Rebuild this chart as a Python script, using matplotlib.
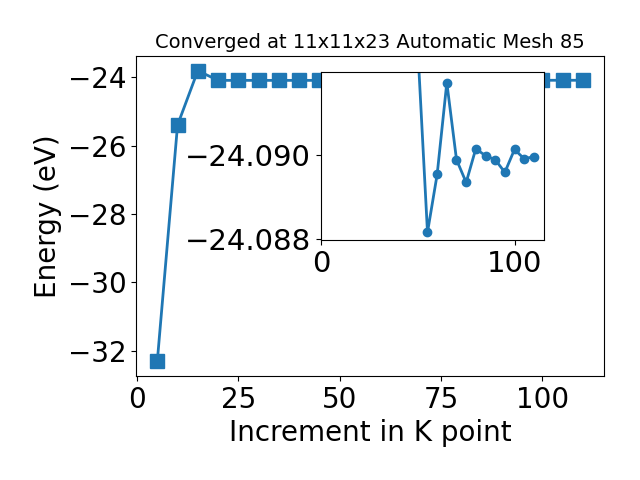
import matplotlib
matplotlib.use("Agg")
import matplotlib.pyplot as plt

# K-point increments and total energies (eV)
kpoints = [5, 10, 15, 20, 25, 30, 35, 40, 45, 50, 55, 60, 65, 70, 75, 80, 85, 90, 95, 100, 105, 110]
energy = [
    -32.31, -25.40, -23.81, -24.0928, -24.0927, -24.0927, -24.0926, -24.0926, -24.0925, -24.0925,
    -24.08816, -24.08953, -24.09170, -24.08988, -24.08934, -24.09014,
    -24.08997, -24.08988, -24.08958, -24.09012, -24.08990, -24.08995,
]

fig = plt.figure(figsize=(6.4, 4.8), dpi=100)
ax = fig.add_subplot(111)
fig.subplots_adjust(left=0.2125, right=0.944, bottom=0.2167, top=0.883)

ax.plot(kpoints, energy, marker="s", markersize=10, linewidth=2, color="#1f77b4")
ax.set_title("Converged at 11x11x23 Automatic Mesh 85", fontsize=14)
ax.set_xlabel("Increment in K point", fontsize=20)
ax.set_ylabel("Energy (eV)", fontsize=20)
ax.tick_params(labelsize=20)

# zoomed inset of the converged region
axin = fig.add_axes([0.501, 0.5, 0.349, 0.349])
axin.plot(kpoints[3:], energy[3:], marker="o", markersize=6, linewidth=2, color="#1f77b4")
axin.set_xlim(-0.25, 115.25)
axin.set_ylim(-24.08798, -24.09194)
axin.set_yticks([-24.090, -24.088])
axin.set_xticks([0, 100])
axin.ticklabel_format(axis="y", useOffset=False)
axin.tick_params(labelsize=21)

fig.savefig("out.png", dpi=100)
